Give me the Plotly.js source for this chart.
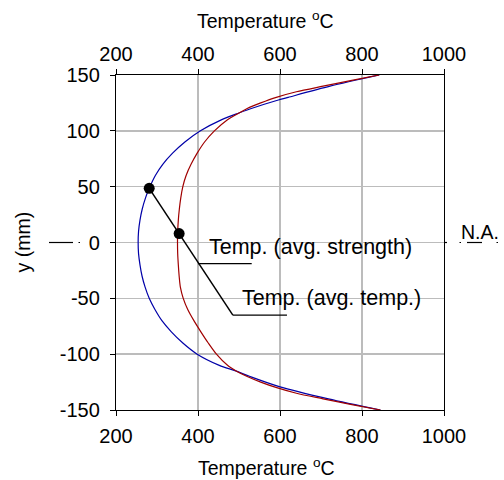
<!DOCTYPE html>
<html>
<head>
<meta charset="utf-8">
<script src="https://cdn.plot.ly/plotly-3.0.1.min.js"></script>
<style>html,body{margin:0;padding:0;background:#fff;}#chart{width:504px;height:480px;}</style>
</head>
<body>
<div id="chart"></div>
<script>
// Blue curve (outer profile)
var blueY = [150, 140, 130, 127.6, 120, 116, 110, 100, 90, 80, 70, 60, 48.5, 40, 30, 20, 10, 0, -10, -20, -30, -40, -50, -60, -70, -80, -90, -100, -110, -115, -120, -129, -140, -150];
var blueT = [842, 722, 620, 596, 530, 500, 458, 406, 368, 338, 314, 296, 281, 272, 264, 258.5, 255, 254, 255, 258.5, 263.5, 271, 281, 295, 312, 335, 363, 398, 452, 492, 527, 598, 718, 845];
// Red curve
var redY = [150, 145, 140, 135, 130, 125, 120, 116, 110, 100, 90, 80, 70, 60, 50, 40, 30, 20, 10, 0, -10, -20, -30, -40, -50, -60, -70, -80, -90, -100, -110, -115, -120, -125, -130, -135, -140, -145, -150];
var redT = [842, 772, 705, 640, 591, 553, 520, 500, 472, 440, 416, 398, 383, 371, 363, 358, 354.5, 352, 350.5, 350, 350.5, 352, 354, 357, 364, 375, 390, 407, 425, 445, 472, 493, 520, 553, 592, 640, 705, 772, 845];
// Marked points and leader lines
var dotT = [281, 354];
var dotY = [48.5, 8];
var leaderT = [281, 485];
var leaderY = [48.5, -65];
var lead1T = [400, 531], lead1Y = [-19, -19];
var lead2T = [485, 617], lead2Y = [-65, -65];
var labels = ["Temp. (avg. strength)", "Temp. (avg. temp.)"];
var labelT = [422, 503];
var labelY = [-4, -50];
var xTicks = [200, 400, 600, 800, 1000];
var xTickText = ["200", "400", "600", "800", "1000"];
var yTicks = [-150, -100, -50, 0, 50, 100, 150];
var yTickText = ["-150", "-100", "-50", "0", "50", "100", "150"];

var FONT = "Liberation Sans, Arial, sans-serif";
var traces = [
  {x: blueT, y: blueY, mode: "lines", line: {color: "#0000a8", width: 1.2, shape: "spline", smoothing: 0.8}, hoverinfo: "skip"},
  {x: redT, y: redY, mode: "lines", line: {color: "#a00000", width: 1.2, shape: "spline", smoothing: 0.8}, hoverinfo: "skip"},
  {x: leaderT, y: leaderY, mode: "lines", line: {color: "#000", width: 1.5}, hoverinfo: "skip"},
  {x: lead1T, y: lead1Y, mode: "lines", line: {color: "#000", width: 1.2}, hoverinfo: "skip"},
  {x: lead2T, y: lead2Y, mode: "lines", line: {color: "#000", width: 1.2}, hoverinfo: "skip"},
  {x: dotT, y: dotY, mode: "markers", marker: {color: "#000", size: 11}, hoverinfo: "skip"},
  {x: [], y: [], xaxis: "x2", mode: "lines", hoverinfo: "skip"}
];

var axisCommon = {
  showline: true, linecolor: "#000", linewidth: 1.2,
  gridcolor: "#bcbcbc", gridwidth: 1.5,
  ticks: "outside", ticklen: 5, tickcolor: "#000", tickwidth: 1,
  tickfont: {family: FONT, size: 20, color: "#000"},
  zeroline: false
};

var annotations = [];
for (var i = 0; i < labels.length; i++) {
  annotations.push({x: labelT[i], y: labelY[i], xref: "x", yref: "y", text: labels[i], showarrow: false,
    xanchor: "left", yanchor: "middle", font: {family: FONT, size: 21.5, color: "#000"}});
}
annotations.push({x: (265 - 116) / 328, y: 1, yshift: 55, xref: "paper", yref: "paper", text: "Temperature <sup>o</sup>C",
  showarrow: false, xanchor: "center", yanchor: "middle", font: {family: FONT, size: 19.5, color: "#000"}});
annotations.push({x: (266 - 116) / 328, y: 0, yshift: -57, xref: "paper", yref: "paper", text: "Temperature <sup>o</sup>C",
  showarrow: false, xanchor: "center", yanchor: "middle", font: {family: FONT, size: 19.5, color: "#000"}});
annotations.push({x: (22 - 116) / 328, y: 0.5, xref: "paper", yref: "paper", text: "y (mm)", textangle: -90,
  showarrow: false, xanchor: "center", yanchor: "middle", font: {family: FONT, size: 19.5, color: "#000"}});
annotations.push({x: (480 - 116) / 328, y: 0.5, yshift: 11, xref: "paper", yref: "paper", text: "N.A.",
  showarrow: false, xanchor: "center", yanchor: "middle", font: {family: FONT, size: 19.5, color: "#000"}});

function px(p) { return (p - 116) / 328; }
var shapes = [
  {type: "line", xref: "paper", yref: "y", x0: px(49), x1: px(73), y0: 0, y1: 0, line: {color: "#000", width: 1.2}},
  {type: "line", xref: "paper", yref: "y", x0: px(78.5), x1: px(80), y0: 0, y1: 0, line: {color: "#000", width: 1.2}},
  {type: "line", xref: "paper", yref: "y", x0: px(444), x1: px(447), y0: 0, y1: 0, line: {color: "#000", width: 1.2}},
  {type: "line", xref: "paper", yref: "y", x0: px(459.5), x1: px(461), y0: 0, y1: 0, line: {color: "#000", width: 1.2}},
  {type: "line", xref: "paper", yref: "y", x0: px(467), x1: px(482), y0: 0, y1: 0, line: {color: "#000", width: 1.2}},
  {type: "line", xref: "paper", yref: "y", x0: px(496.5), x1: px(498), y0: 0, y1: 0, line: {color: "#000", width: 1.2}}
];

var layout = {
  width: 504, height: 480,
  margin: {l: 116, r: 60, t: 75, b: 70},
  paper_bgcolor: "#fff", plot_bgcolor: "#fff",
  showlegend: false,
  xaxis: Object.assign({}, axisCommon, {range: [200, 1000], tickvals: xTicks, ticktext: xTickText, mirror: true, ticklabelstandoff: 3}),
  xaxis2: Object.assign({}, axisCommon, {range: [200, 1000], tickvals: xTicks, ticktext: xTickText, overlaying: "x", side: "top", showgrid: false, gridcolor: "rgba(0,0,0,0)"}),
  yaxis: Object.assign({}, axisCommon, {range: [-150, 150], tickvals: yTicks, ticktext: yTickText, mirror: true, ticklabelstandoff: 6}),
  annotations: annotations,
  shapes: shapes
};

Plotly.newPlot("chart", traces, layout, {displayModeBar: false, staticPlot: true});
</script>
</body>
</html>
